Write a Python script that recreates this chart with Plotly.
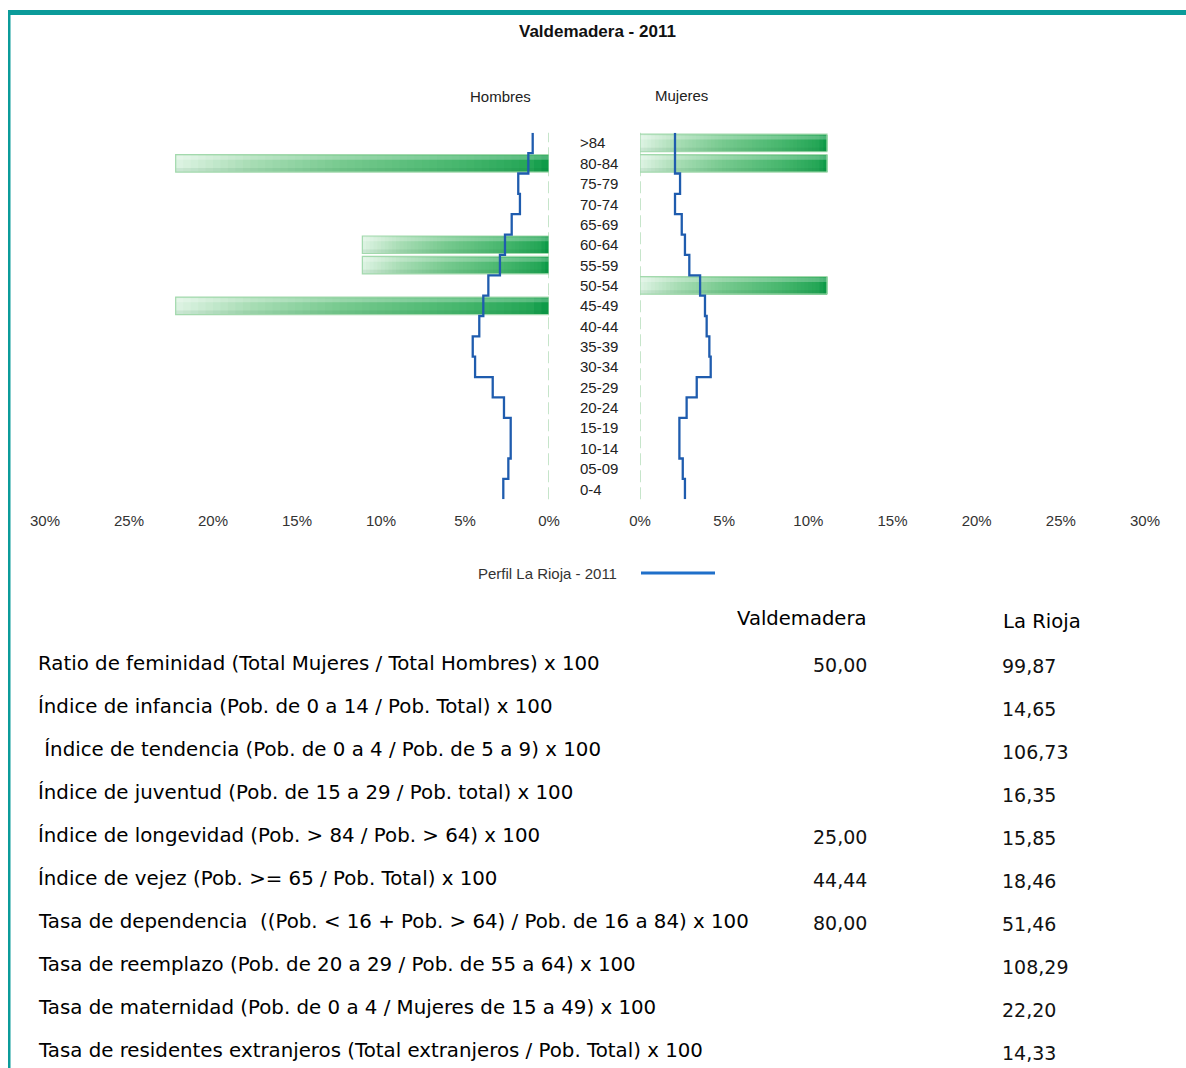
import plotly.graph_objects as go

W, H = 1186, 1068

# ---------------- data ----------------
age_groups = ["0-4", "05-09", "10-14", "15-19", "20-24", "25-29", "30-34", "35-39",
              "40-44", "45-49", "50-54", "55-59", "60-64", "65-69", "70-74", "75-79",
              "80-84", ">84"]
hombres_pct = [0, 0, 0, 0, 0, 0, 0, 0, 0, 22.22, 0, 11.11, 11.11, 0, 0, 0, 22.22, 0]
mujeres_pct = [0, 0, 0, 0, 0, 0, 0, 0, 0, 0, 11.11, 0, 0, 0, 0, 0, 11.11, 11.11]
rioja_hombres = [2.72, 2.42, 2.28, 2.28, 2.68, 3.35, 4.40, 4.54, 4.15, 3.91, 3.61, 2.92,
                 2.62, 2.22, 1.73, 1.83, 1.23, 0.97]
rioja_mujeres = [2.67, 2.54, 2.34, 2.34, 2.77, 3.37, 4.20, 4.12, 3.96, 3.86, 3.57, 2.93,
                 2.67, 2.48, 2.08, 2.38, 2.08, 2.08]
x_ticks = [0, 5, 10, 15, 20, 25, 30]
x_ticktext = ["0%", "5%", "10%", "15%", "20%", "25%", "30%"]

indicadores = [
    "Ratio de feminidad (Total Mujeres / Total Hombres) x 100",
    "Índice de infancia (Pob. de 0 a 14 / Pob. Total) x 100",
    " Índice de tendencia (Pob. de 0 a 4 / Pob. de 5 a 9) x 100",
    "Índice de juventud (Pob. de 15 a 29 / Pob. total) x 100",
    "Índice de longevidad (Pob. > 84 / Pob. > 64) x 100",
    "Índice de vejez (Pob. >= 65 / Pob. Total) x 100",
    "Tasa de dependencia  ((Pob. < 16 + Pob. > 64) / Pob. de 16 a 84) x 100",
    "Tasa de reemplazo (Pob. de 20 a 29 / Pob. de 55 a 64) x 100",
    "Tasa de maternidad (Pob. de 0 a 4 / Mujeres de 15 a 49) x 100",
    "Tasa de residentes extranjeros (Total extranjeros / Pob. Total) x 100",
]
valdemadera_vals = ["50,00", "", "", "", "25,00", "44,44", "80,00", "", "", ""]
rioja_vals = ["99,87", "14,65", "106,73", "16,35", "15,85", "18,46", "51,46", "108,29",
              "22,20", "14,33"]

# ---------------- helpers ----------------
def px(x):
    return x / W

def py(y):
    return 1 - y / H

# gradient stops (light -> dark), style only
STOPS = [(0.0, (222, 243, 227)), (0.2, (168, 221, 181)), (0.45, (118, 201, 142)),
         (0.75, (72, 183, 110)), (0.95, (36, 166, 86)), (1.0, (8, 152, 68))]

def grad(t):
    t = max(0.0, min(1.0, t))
    for (t0, c0), (t1, c1) in zip(STOPS[:-1], STOPS[1:]):
        if t <= t1:
            f = (t - t0) / (t1 - t0)
            c = [round(c0[k] + (c1[k] - c0[k]) * f) for k in range(3)]
            return "rgb(%d,%d,%d)" % tuple(c)
    return "rgb(%d,%d,%d)" % STOPS[-1][1]

CHART_FONT = "Liberation Sans, Arial, sans-serif"
TABLE_FONT = "DejaVu Sans, sans-serif"
BAR_W = 0.86
NSEG = 50

fig = go.Figure()

def add_bars(values, xaxis, light_at_zero):
    idx = [i for i, v in enumerate(values) if v > 0]
    vals = [values[i] for i in idx]
    for s in range(NSEG):
        t = (s + 0.5) / NSEG
        col = grad(t if light_at_zero else 1 - t)
        bases = [v * s / NSEG for v in vals]
        fig.add_trace(go.Bar(
            y=idx, x=[v - b for v, b in zip(vals, bases)], base=bases,
            orientation="h", width=BAR_W, marker=dict(color=col, line=dict(width=0)),
            xaxis=xaxis, yaxis="y", showlegend=False, hoverinfo="skip"))
    # top highlight
    fig.add_trace(go.Bar(
        y=idx, x=vals, base=[0] * len(vals), orientation="h", width=0.2, offset=0.17,
        marker=dict(color="rgba(255,255,255,0.25)", line=dict(width=0)),
        xaxis=xaxis, yaxis="y", showlegend=False, hoverinfo="skip"))
    # bottom shade
    fig.add_trace(go.Bar(
        y=idx, x=vals, base=[0] * len(vals), orientation="h", width=0.2, offset=-0.43,
        marker=dict(color="rgba(0,90,40,0.08)", line=dict(width=0)),
        xaxis=xaxis, yaxis="y", showlegend=False, hoverinfo="skip"))
    # outline
    fig.add_trace(go.Bar(
        y=idx, x=vals, base=[0] * len(vals), orientation="h", width=BAR_W,
        marker=dict(color="rgba(0,0,0,0)", line=dict(color="#a3d9ad", width=1.2)),
        xaxis=xaxis, yaxis="y", showlegend=False, hoverinfo="skip"))

add_bars(hombres_pct, "x", light_at_zero=False)
add_bars(mujeres_pct, "x2", light_at_zero=True)

def step_xy(values):
    xs, ys = [], []
    for i, v in enumerate(values):
        xs += [v, v]
        ys += [i - 0.5, i + 0.5]
    return xs, ys

for vals, xa in ((rioja_hombres, "x"), (rioja_mujeres, "x2")):
    xs, ys = step_xy(vals)
    fig.add_trace(go.Scatter(x=xs, y=ys, mode="lines", xaxis=xa, yaxis="y",
                             line=dict(color="#1f5cae", width=2.3),
                             showlegend=False, hoverinfo="skip"))

# ---------------- axes ----------------
y_top_px, y_bot_px = 132.8, 499.2
axis_common = dict(tickvals=x_ticks, ticktext=x_ticktext, showgrid=False, zeroline=False,
                   showline=False, ticks="", anchor="y", ticklabelstandoff=11,
                   automargin=False,
                   tickfont=dict(family=CHART_FONT, size=15, color="#333333"),
                   fixedrange=True)
fig.update_layout(
    xaxis=dict(domain=[px(45), px(549)], range=[30, 0], **axis_common),
    xaxis2=dict(domain=[px(640), px(1145)], range=[0, 30], **axis_common),
    yaxis=dict(domain=[py(y_bot_px), py(y_top_px)], range=[-0.5, 17.5], showgrid=False,
               zeroline=False, showticklabels=False, showline=False, ticks="",
               automargin=False, anchor="x", fixedrange=True),
)

shapes = []
# dashed zero lines
for xa in ("x", "x2"):
    shapes.append(dict(type="line", xref=xa, yref="y domain", x0=0, x1=0, y0=0, y1=1,
                       line=dict(color="#a8d8ae", width=1.3, dash="12px,5px"), layer="below"))
# frame
shapes.append(dict(type="rect", xref="paper", yref="paper", x0=px(8), x1=1,
                   y0=py(15), y1=py(10), fillcolor="#0b9b9a", line=dict(width=0)))
shapes.append(dict(type="rect", xref="paper", yref="paper", x0=px(8), x1=px(10.5),
                   y0=0, y1=py(10), fillcolor="#0b9b9a", line=dict(width=0)))
# legend line
shapes.append(dict(type="line", xref="paper", yref="paper", x0=px(641), x1=px(715),
                   y0=py(573), y1=py(573), line=dict(color="#1f6fc9", width=3)))

ann = []
ann.append(dict(text="<b>Valdemadera - 2011</b>", x=px(597), y=py(32), xref="paper",
                yref="paper", showarrow=False, xanchor="center", yanchor="middle",
                font=dict(family=CHART_FONT, size=17, color="#111111")))
ann.append(dict(text="Hombres", x=px(500), y=py(96), xref="paper", yref="paper",
                showarrow=False, xanchor="center", yanchor="middle",
                font=dict(family=CHART_FONT, size=15, color="#222222")))
ann.append(dict(text="Mujeres", x=px(681), y=py(95), xref="paper", yref="paper",
                showarrow=False, xanchor="center", yanchor="middle",
                font=dict(family=CHART_FONT, size=15, color="#222222")))
for i, g in enumerate(age_groups):
    ann.append(dict(text=g, x=px(578), y=i, xref="paper", yref="y", showarrow=False,
                    xanchor="left", yanchor="middle",
                    font=dict(family=CHART_FONT, size=15, color="#222222")))
ann.append(dict(text="Perfil La Rioja - 2011", x=px(619), y=py(573), xref="paper",
                yref="paper", showarrow=False, xanchor="right", yanchor="middle",
                font=dict(family=CHART_FONT, size=15, color="#333333")))

# table
ann.append(dict(text="Valdemadera", x=px(801), y=py(618), xref="paper", yref="paper",
                showarrow=False, xanchor="center", yanchor="middle",
                font=dict(family=TABLE_FONT, size=19.6, color="#000000")))
ann.append(dict(text="La Rioja", x=px(1042), y=py(621), xref="paper", yref="paper",
                showarrow=False, xanchor="center", yanchor="middle",
                font=dict(family=TABLE_FONT, size=19.6, color="#000000")))
for i, lab in enumerate(indicadores):
    yy = 663 + i * 43
    ann.append(dict(text=lab, x=px(36), y=py(yy), xref="paper", yref="paper",
                    showarrow=False, xanchor="left", yanchor="middle",
                    font=dict(family=TABLE_FONT, size=19.8, color="#000000")))
    if valdemadera_vals[i]:
        ann.append(dict(text=valdemadera_vals[i], x=px(869), y=py(yy + 2), xref="paper",
                        yref="paper", showarrow=False, xanchor="right", yanchor="middle",
                        font=dict(family=TABLE_FONT, size=19, color="#111111")))
    ann.append(dict(text=rioja_vals[i], x=px(1000), y=py(yy + 3), xref="paper",
                    yref="paper", showarrow=False, xanchor="left", yanchor="middle",
                    font=dict(family=TABLE_FONT, size=19, color="#111111")))

fig.update_layout(
    width=W, height=H, margin=dict(l=0, r=0, t=0, b=0, pad=0), autosize=False,
    paper_bgcolor="white", plot_bgcolor="rgba(0,0,0,0)",
    barmode="overlay", showlegend=False, shapes=shapes, annotations=ann,
)

fig.write_html("out.html", config={"displayModeBar": False},
               post_script="document.body.style.margin='0px';document.body.style.overflow='hidden';")
